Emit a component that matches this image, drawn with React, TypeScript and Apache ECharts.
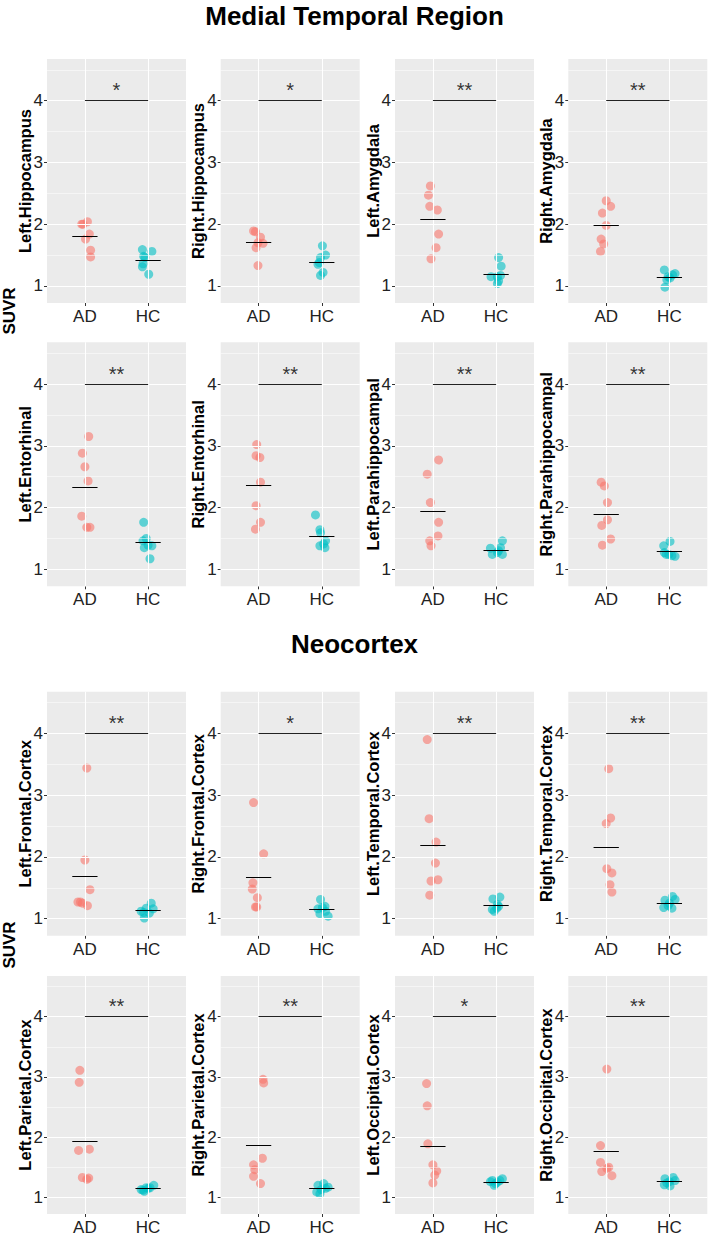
import React, { useEffect, useRef } from "react";
import * as echarts from "echarts";

const groups = ["AD", "HC"];
const sectionTitles = ["Medial Temporal Region", "Neocortex"];
const yAxisTitle = "SUVR";
const regions = [
  "Left.Hippocampus", "Right.Hippocampus", "Left.Amygdala", "Right.Amygdala",
  "Left.Entorhinal", "Right.Entorhinal", "Left.Parahippocampal", "Right.Parahippocampal",
  "Left.Frontal.Cortex", "Right.Frontal.Cortex", "Left.Temporal.Cortex", "Right.Temporal.Cortex",
  "Left.Parietal.Cortex", "Right.Parietal.Cortex", "Left.Occipital.Cortex", "Right.Occipital.Cortex",
];
const significance = ["*", "*", "**", "**", "**", "**", "**", "**", "**", "*", "**", "**", "**", "**", "*", "**"];
const sigLevel = 4;
const yTicks = [1, 2, 3, 4];
const yMinor = [1.5, 2.5, 3.5, 4.5];

const adValues = [
  [2.0, 2.0, 2.04, 1.84, 1.76, 1.58, 1.47],
  [1.89, 1.88, 1.79, 1.7, 1.69, 1.62, 1.33],
  [2.62, 2.47, 2.29, 2.23, 1.84, 1.62, 1.44],
  [2.38, 2.29, 2.18, 1.98, 1.76, 1.68, 1.56],
  [3.15, 2.88, 2.66, 2.43, 1.86, 1.68, 1.68],
  [3.02, 2.84, 2.81, 2.41, 2.03, 1.76, 1.65],
  [2.77, 2.54, 2.08, 1.76, 1.54, 1.46, 1.38],
  [2.41, 2.35, 2.08, 1.8, 1.71, 1.49, 1.39],
  [3.44, 1.95, 1.47, 1.27, 1.27, 1.25, 1.21],
  [2.88, 2.05, 1.58, 1.48, 1.34, 1.19, 1.19],
  [3.9, 2.62, 2.24, 1.9, 1.63, 1.61, 1.38],
  [3.43, 2.63, 2.54, 1.81, 1.74, 1.55, 1.43],
  [3.11, 2.91, 1.8, 1.78, 1.33, 1.32, 1.3],
  [2.96, 2.9, 1.65, 1.54, 1.46, 1.35, 1.23],
  [2.89, 2.52, 1.89, 1.54, 1.44, 1.37, 1.24],
  [3.13, 1.86, 1.58, 1.5, 1.48, 1.43, 1.36],
];
const adJitter = [
  [-0.05, -0.03, 0.04, 0.07, 0.01, 0.09, 0.09],
  [-0.08, -0.05, 0.03, -0.01, 0.07, -0.04, -0.01],
  [-0.04, -0.07, -0.05, 0.07, 0.09, 0.05, -0.03],
  [0.0, 0.07, -0.06, 0.0, -0.08, -0.04, -0.09],
  [0.06, -0.04, 0.0, 0.05, -0.05, 0.03, 0.08],
  [-0.03, -0.04, 0.02, 0.03, -0.04, 0.03, -0.05],
  [0.09, -0.09, -0.04, 0.09, 0.08, -0.05, -0.03],
  [-0.08, -0.03, 0.02, 0.02, -0.07, 0.07, -0.06],
  [0.03, 0.0, 0.08, -0.11, -0.07, -0.04, 0.04],
  [-0.08, 0.08, -0.09, -0.1, -0.02, -0.05, -0.03],
  [-0.09, -0.06, 0.05, 0.04, 0.08, -0.03, -0.05],
  [0.04, 0.07, 0.0, 0.01, 0.09, 0.06, 0.09],
  [-0.08, -0.09, 0.07, -0.1, -0.04, 0.06, 0.03],
  [0.07, 0.08, 0.06, -0.08, -0.06, -0.08, 0.03],
  [-0.1, -0.09, -0.08, 0.0, 0.06, 0.03, 0.0],
  [0.01, -0.09, -0.09, 0.04, 0.01, -0.07, 0.09],
];
const hcValues = [
  [1.59, 1.56, 1.48, 1.46, 1.36, 1.31, 1.19],
  [1.65, 1.5, 1.46, 1.38, 1.35, 1.22, 1.17],
  [1.46, 1.32, 1.17, 1.15, 1.15, 1.08, 1.04],
  [1.26, 1.2, 1.18, 1.15, 1.13, 1.1, 0.98],
  [1.76, 1.5, 1.46, 1.39, 1.38, 1.35, 1.17],
  [1.88, 1.64, 1.59, 1.46, 1.41, 1.38, 1.35],
  [1.46, 1.35, 1.34, 1.3, 1.27, 1.24, 1.24],
  [1.45, 1.38, 1.27, 1.24, 1.24, 1.22, 1.21],
  [1.25, 1.17, 1.16, 1.12, 1.1, 1.09, 1.01],
  [1.31, 1.2, 1.18, 1.16, 1.12, 1.08, 1.04],
  [1.35, 1.32, 1.23, 1.2, 1.17, 1.15, 1.12],
  [1.36, 1.31, 1.3, 1.25, 1.21, 1.18, 1.17],
  [1.2, 1.16, 1.16, 1.15, 1.13, 1.12, 1.1],
  [1.23, 1.2, 1.17, 1.15, 1.13, 1.09, 1.06],
  [1.31, 1.28, 1.28, 1.26, 1.25, 1.23, 1.2],
  [1.33, 1.31, 1.28, 1.26, 1.24, 1.21, 1.19],
];
const hcJitter = [
  [-0.09, 0.06, -0.07, -0.05, -0.08, -0.09, 0.01],
  [0.01, 0.06, -0.02, -0.04, -0.06, 0.02, -0.02],
  [0.04, 0.08, 0.07, -0.08, 0.02, 0.04, 0.02],
  [-0.08, 0.09, 0.05, -0.02, 0.01, -0.04, -0.07],
  [-0.07, -0.03, -0.08, 0.0, 0.06, -0.06, 0.03],
  [-0.1, -0.03, -0.02, 0.06, 0.03, -0.03, 0.05],
  [0.1, 0.07, -0.09, 0.04, 0.02, -0.06, 0.1],
  [0.01, -0.09, -0.08, -0.05, -0.01, 0.04, 0.09],
  [0.05, -0.03, 0.08, -0.11, -0.07, 0.02, -0.06],
  [-0.02, 0.05, 0.01, -0.06, 0.06, -0.03, 0.1],
  [0.06, -0.05, 0.02, 0.04, 0.01, -0.06, -0.03],
  [0.05, 0.09, -0.07, 0.0, -0.02, -0.09, 0.04],
  [0.09, -0.03, 0.03, 0.0, -0.11, -0.08, -0.06],
  [0.03, -0.06, 0.1, 0.06, -0.01, -0.08, -0.03],
  [0.1, -0.06, 0.06, -0.09, 0.02, -0.01, -0.03],
  [0.06, -0.07, 0.09, 0.0, -0.04, -0.08, 0.01],
];

const FONT = "'Liberation Sans', Arial, Helvetica, sans-serif";
const colLeft = [47, 220.7, 395, 568.3];
const rowTop = [59, 342.3, 691.7, 976];
const PW = 139;
const PH = 244;
const Y_MIN = 0.724;
const Y_MAX = 4.676;
const AD_COLOR = "#F8766D";
const HC_COLOR = "#00BFC4";

const mean = (a: number[]) => a.reduce((s, v) => s + v, 0) / a.length;
const noEdge = { symbol: ["none", "none"], label: { show: false }, silent: true, animation: false };

function buildOption() {
  const grid: any[] = [];
  const xAxis: any[] = [];
  const yAxis: any[] = [];
  const series: any[] = [];
  regions.forEach((name, i) => {
    const r = Math.floor(i / 4);
    const c = i % 4;
    grid.push({
      left: colLeft[c], top: rowTop[r], width: PW, height: PH,
      show: true, backgroundColor: "#EBEBEB", borderWidth: 0,
    });
    xAxis.push({
      gridIndex: i, type: "value", min: 0.4, max: 2.6,
      splitLine: { show: false }, axisLine: { show: false },
      axisTick: { show: true, length: 3, customValues: [1, 2], lineStyle: { color: "#333" } },
      axisLabel: {
        customValues: [1, 2], formatter: (v: number) => groups[Math.round(v) - 1] || "",
        fontSize: 17, color: "#222", margin: 5, fontFamily: FONT,
      },
    });
    yAxis.push({
      gridIndex: i, type: "value", min: Y_MIN, max: Y_MAX,
      name: name, nameLocation: "middle", nameRotate: 90, nameGap: 14,
      nameMoveOverlap: false,
      nameTextStyle: { fontSize: 16.5, fontWeight: "bold", color: "#000", fontFamily: FONT },
      splitLine: { show: false }, axisLine: { show: false },
      axisTick: { show: true, length: 3, customValues: yTicks, lineStyle: { color: "#333" } },
      axisLabel: { customValues: yTicks, fontSize: 17, color: "#222", margin: 4, fontFamily: FONT },
    });
    // background grid lines
    series.push({
      type: "scatter", xAxisIndex: i, yAxisIndex: i, data: [], silent: true, z: 1,
      markLine: {
        ...noEdge,
        lineStyle: { color: "#ffffff", type: "solid", width: 1.1 },
        data: [
          ...yMinor.map((v) => ({ yAxis: v, lineStyle: { width: 0.5, color: "#ffffff", type: "solid" } })),
          ...yTicks.map((v) => ({ yAxis: v })),
          ...groups.map((_, k) => ({ xAxis: k + 1 })),
        ],
      },
    });
    const groupSets = [
      { vals: adValues[i], jit: adJitter[i], color: AD_COLOR, pos: 1 },
      { vals: hcValues[i], jit: hcJitter[i], color: HC_COLOR, pos: 2 },
    ];
    groupSets.forEach((g, k) => {
      const m = mean(g.vals);
      series.push({
        type: "scatter", name: groups[k], xAxisIndex: i, yAxisIndex: i, z: 3,
        symbolSize: 9,
        itemStyle: { color: g.color, opacity: 0.6 },
        data: g.vals.map((v, j) => [g.pos + g.jit[j], v]),
        markLine: {
          ...noEdge,
          lineStyle: { color: "#000", type: "solid", width: 1 },
          data: [[{ coord: [g.pos - 0.2, m] }, { coord: [g.pos + 0.2, m] }]],
        },
      });
    });
    series.push({
      type: "scatter", xAxisIndex: i, yAxisIndex: i, z: 4, silent: true,
      symbolSize: 1, itemStyle: { color: "rgba(0,0,0,0)" },
      data: [[1.5, sigLevel]],
      label: {
        show: true, position: "top", distance: 0, formatter: significance[i],
        fontSize: 20, color: "#000", fontFamily: FONT,
      },
      markLine: {
        ...noEdge,
        lineStyle: { color: "#222", type: "solid", width: 1.1 },
        data: [[{ coord: [1, sigLevel] }, { coord: [2, sigLevel] }]],
      },
    });
  });

  const titleStyle = { fontSize: 26, fontWeight: "bold", fontFamily: FONT, fill: "#000", align: "center", verticalAlign: "middle" };
  const suvrStyle = { fontSize: 17, fontWeight: "bold", fontFamily: FONT, fill: "#000", align: "center", verticalAlign: "middle" };
  return {
    animation: false,
    backgroundColor: "#ffffff",
    grid, xAxis, yAxis, series,
    graphic: [
      { type: "text", x: 354.5, y: 16, style: { text: sectionTitles[0], ...titleStyle } },
      { type: "text", x: 354.5, y: 644, style: { text: sectionTitles[1], ...titleStyle } },
      { type: "text", x: 9, y: 311, rotation: Math.PI / 2, style: { text: yAxisTitle, ...suvrStyle } },
      { type: "text", x: 9, y: 945, rotation: Math.PI / 2, style: { text: yAxisTitle, ...suvrStyle } },
    ],
  };
}

export default function App() {
  const ref = useRef<HTMLDivElement>(null);
  useEffect(() => {
    if (!ref.current) return;
    const chart = echarts.init(ref.current, undefined, { renderer: "svg" });
    chart.setOption(buildOption() as any);
    return () => chart.dispose();
  }, []);
  return (
    <div
      ref={ref}
      style={{ position: "absolute", left: 0, top: 0, width: 709, height: 1236, background: "#fff" }}
    />
  );
}
